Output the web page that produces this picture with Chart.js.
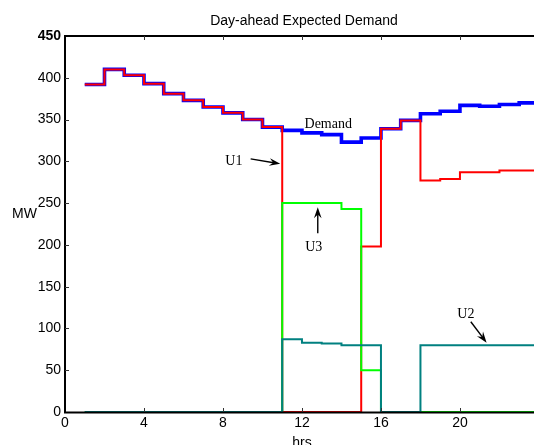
<!DOCTYPE html>
<html>
<head>
<meta charset="utf-8">
<script src="https://cdn.jsdelivr.net/npm/chart.js@4"></script>
<style>
    html, body { margin: 0; padding: 0; background: #fff; }
    #box { width: 534px; height: 445px; }
</style>
</head>
<body>
<div id="box"><canvas id="demandChart"></canvas></div>
<script>

// ======================================
// Data (MW per hour, hour h holds until h+1)
// ======================================

const hours =
    [1, 2, 3, 4, 5, 6, 7, 8, 9, 10, 11, 12, 13, 14, 15, 16, 17, 18, 19, 20, 21, 22, 23, 24];

const demand =
    [392, 410, 403, 393, 381, 373, 365, 358, 350, 341, 337, 334, 332, 323, 328, 339, 349, 357, 360, 367, 366, 368, 370, 370];

const unit1 =
    [392, 410, 403, 393, 381, 373, 365, 358, 350, 341, 0, 0, 0, 0, 198, 339, 349, 277, 279, 287, 287, 289, 289, 289];

const unit2 =
    [0, 0, 0, 0, 0, 0, 0, 0, 0, 0, 87, 83, 82, 80, 80, 0, 0, 80, 80, 80, 80, 80, 80, 80];

const unit3 =
    [0, 0, 0, 0, 0, 0, 0, 0, 0, 0, 250, 250, 250, 243, 50, 0, 0, 0, 0, 0, 0, 0, 0, 0];

const xTicks =
    [0, 4, 8, 12, 16, 20];

const yTicks =
    [0, 50, 100, 150, 200, 250, 300, 350, 400, 450];

// text labels and arrows, in data units
const notes = [
    { text: "Demand", x: 13.33, y: 340 },
    { text: "U1", x: 8.55, y: 296 },
    { text: "U3", x: 12.6, y: 193 },
    { text: "U2", x: 20.3, y: 113 }
];

const arrows = [
    { x0: 9.4, y0: 303, x1: 10.9, y1: 297 },
    { x0: 12.8, y0: 214, x1: 12.8, y1: 245 },
    { x0: 20.55, y0: 108, x1: 21.35, y1: 83 }
];

const SANS = "'Liberation Sans', Arial, sans-serif";
const SERIF = "'Liberation Serif', 'Times New Roman', serif";

function toPoints(values) {
    return hours.map((h, i) => ({ x: h, y: values[i] }));
}

// ======================================
// Plugins
// ======================================

// axes frame and inward ticks, drawn over the lines like MATLAB does
const framePlugin = {
    id: "frame",
    afterDatasetsDraw(chart) {
        const ctx = chart.ctx;
        const area = chart.chartArea;
        const xs = chart.scales.x;
        const ys = chart.scales.y;

        ctx.save();
        ctx.strokeStyle = "#000";
        ctx.lineWidth = 2;
        ctx.beginPath();
        ctx.moveTo(area.left, area.bottom + 0.5);
        ctx.lineTo(area.right + 2, area.bottom + 0.5);
        ctx.moveTo(area.left, area.top);
        ctx.lineTo(area.right + 2, area.top);
        ctx.moveTo(area.left, area.top - 1);
        ctx.lineTo(area.left, area.bottom + 1.5);
        ctx.stroke();

        ctx.lineWidth = 1;
        ctx.strokeStyle = "#333";
        ctx.beginPath();
        xTicks.forEach(v => {
            if (v === 0) return;
            const px = Math.round(xs.getPixelForValue(v)) + 0.5;
            ctx.moveTo(px, area.bottom);
            ctx.lineTo(px, area.bottom - 4);
            ctx.moveTo(px, area.top);
            ctx.lineTo(px, area.top + 4);
        });
        yTicks.forEach(v => {
            if (v === 0 || v === 450) return;
            const py = Math.round(ys.getPixelForValue(v)) + 0.5;
            ctx.moveTo(area.left, py);
            ctx.lineTo(area.left + 4, py);
        });
        ctx.stroke();
        ctx.restore();
    }
};

function drawArrow(ctx, x0, y0, x1, y1) {
    const angle = Math.atan2(y1 - y0, x1 - x0);
    const len = 11;
    const half = 3.8;

    ctx.beginPath();
    ctx.moveTo(x0, y0);
    ctx.lineTo(x1 - Math.cos(angle) * len * 0.6, y1 - Math.sin(angle) * len * 0.6);
    ctx.stroke();

    ctx.save();
    ctx.translate(x1, y1);
    ctx.rotate(angle);
    ctx.beginPath();
    ctx.moveTo(0, 0);
    ctx.lineTo(-len, -half);
    ctx.lineTo(-len * 0.65, 0);
    ctx.lineTo(-len, half);
    ctx.closePath();
    ctx.fill();
    ctx.restore();
}

const notesPlugin = {
    id: "notes",
    afterDatasetsDraw(chart) {
        const ctx = chart.ctx;
        const xs = chart.scales.x;
        const ys = chart.scales.y;

        ctx.save();
        ctx.fillStyle = "#000";
        ctx.strokeStyle = "#000";
        ctx.lineWidth = 1.4;
        ctx.font = "14px " + SERIF;
        ctx.textAlign = "center";
        ctx.textBaseline = "alphabetic";

        notes.forEach(n => {
            ctx.fillText(n.text, xs.getPixelForValue(n.x), ys.getPixelForValue(n.y));
        });

        arrows.forEach(a => {
            drawArrow(ctx,
                xs.getPixelForValue(a.x0), ys.getPixelForValue(a.y0),
                xs.getPixelForValue(a.x1), ys.getPixelForValue(a.y1));
        });
        ctx.restore();
    }
};

// title and axis names, centred on the full 0-24 axis
const labelsPlugin = {
    id: "labels",
    afterDraw(chart) {
        const ctx = chart.ctx;
        const xs = chart.scales.x;
        const mid = xs.getPixelForValue(12);

        ctx.save();
        ctx.fillStyle = "#000";
        ctx.textAlign = "center";

        ctx.font = "14px " + SANS;
        ctx.textBaseline = "alphabetic";
        ctx.fillText("Day-ahead Expected Demand", mid + 2, 25);

        ctx.textBaseline = "middle";
        ctx.fillText("MW", 24.5, 214.5);

        ctx.textBaseline = "top";
        ctx.fillText("hrs", mid, 436);
        ctx.restore();
    }
};

// ======================================
// Chart
// ======================================

const demandChart = new Chart(document.getElementById("demandChart"), {

    type: "line",

    data: {
        datasets: [
            {
                label: "U2",
                data: toPoints(unit2),
                borderColor: "#008080",
                borderWidth: 2,
                stepped: true,
                pointRadius: 0
            },
            {
                label: "U3",
                data: toPoints(unit3),
                borderColor: "#00ff00",
                borderWidth: 2,
                stepped: true,
                pointRadius: 0
            },
            {
                label: "U1",
                data: toPoints(unit1),
                borderColor: "#ff0000",
                borderWidth: 2,
                stepped: true,
                pointRadius: 0
            },
            {
                label: "Demand",
                data: toPoints(demand),
                borderColor: "#0000ff",
                borderWidth: 3.6,
                stepped: true,
                pointRadius: 0
            }
        ]
    },

    options: {

        responsive: true,

        maintainAspectRatio: false,

        animation: false,

        layout: {
            padding: { top: 36, right: 0, left: 0, bottom: 0 }
        },

        plugins: {
            legend: { display: false },
            title: { display: false },
            tooltip: { enabled: false }
        },

        scales: {
            x: {
                type: "linear",
                min: 0,
                max: 23.75,
                afterFit(scale) { scale.height = 33; },
                afterBuildTicks(scale) {
                    scale.ticks = xTicks.map(v => ({ value: v }));
                },
                grid: { display: false, drawTicks: false },
                border: { display: false },
                ticks: {
                    color: "#000",
                    padding: 3,
                    maxRotation: 0,
                    font: { family: SANS, size: 14 }
                }
            },
            y: {
                min: 0,
                max: 450,
                afterFit(scale) { scale.width = 65; },
                afterBuildTicks(scale) {
                    scale.ticks = yTicks.map(v => ({ value: v }));
                },
                grid: { display: false, drawTicks: false },
                border: { display: false },
                ticks: {
                    color: "#000",
                    padding: 4,
                    font: ctx => ({
                        family: SANS,
                        size: 14,
                        weight: ctx.tick && ctx.tick.value === 450 ? "bold" : "normal"
                    })
                }
            }
        }
    },

    plugins: [framePlugin, notesPlugin, labelsPlugin]
});

</script>
</body>
</html>
